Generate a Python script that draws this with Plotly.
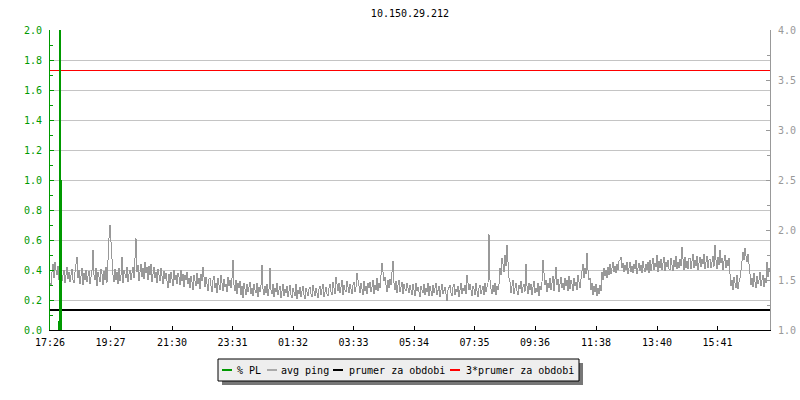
import plotly.graph_objects as go

# ---------------- data ----------------
title_text = "10.150.29.212"
start_time = "17:26"
tick_labels = ["17:26", "19:27", "21:30", "23:31", "01:32", "03:33",
               "05:34", "07:35", "09:36", "11:38", "13:40", "15:41"]
period_minutes = 1440
ping_step_minutes = 2

# avg ping [ms], one sample every 2 minutes
avg_ping = [
    1.47, 1.44, 1.58, 1.66, 1.52, 1.68, 1.60, 1.55, 1.64, 1.50, 1.58, 1.62, 1.49, 1.53, 1.60, 1.47, 1.56, 1.63, 1.51, 1.58,
    1.48, 1.55, 1.61, 1.50, 1.47, 1.58, 1.64, 1.73, 1.52, 1.60, 1.46, 1.55, 1.62, 1.45, 1.57, 1.50, 1.60, 1.48, 1.54, 1.59,
    1.46, 1.52, 1.60, 1.80, 1.55, 1.50, 1.62, 1.44, 1.58, 1.53, 1.48, 1.61, 1.56, 1.45, 1.59, 1.50, 1.63, 1.47, 1.78, 1.92,
    2.05, 1.85, 1.72, 1.55, 1.48, 1.61, 1.50, 1.58, 1.46, 1.62, 1.49, 1.55, 1.73, 1.47, 1.60, 1.57, 1.52, 1.63, 1.48, 1.56,
    1.60, 1.50, 1.56, 1.63, 1.52, 1.78, 1.92, 1.58, 1.65, 1.49, 1.60, 1.66, 1.53, 1.62, 1.51, 1.68, 1.57, 1.63, 1.50, 1.64,
    1.55, 1.66, 1.48, 1.60, 1.63, 1.52, 1.58, 1.47, 1.61, 1.55, 1.49, 1.62, 1.54, 1.46, 1.59, 1.51, 1.57, 1.48, 1.42, 1.56,
    1.47, 1.58, 1.52, 1.44, 1.60, 1.50, 1.55, 1.46, 1.57, 1.53, 1.45, 1.60, 1.49, 1.56, 1.43, 1.55, 1.50, 1.58, 1.46, 1.52,
    1.42, 1.54, 1.48, 1.40, 1.55, 1.50, 1.44, 1.57, 1.46, 1.52, 1.41, 1.56, 1.49, 1.63, 1.47, 1.43, 1.53, 1.45, 1.39, 1.51,
    1.52, 1.44, 1.38, 1.50, 1.54, 1.42, 1.47, 1.37, 1.52, 1.45, 1.40, 1.55, 1.48, 1.39, 1.51, 1.43, 1.46, 1.38, 1.53, 1.44,
    1.50, 1.42, 1.52, 1.70, 1.45, 1.39, 1.50, 1.36, 1.47, 1.42, 1.49, 1.35, 1.44, 1.32, 1.47, 1.40, 1.35, 1.46, 1.38, 1.43,
    1.48, 1.36, 1.42, 1.34, 1.46, 1.40, 1.37, 1.47, 1.33, 1.43, 1.38, 1.45, 1.65, 1.41, 1.35, 1.44, 1.37, 1.46, 1.34, 1.41,
    1.62, 1.40, 1.36, 1.46, 1.33, 1.42, 1.38, 1.47, 1.35, 1.40, 1.44, 1.32, 1.39, 1.46, 1.34, 1.41, 1.37, 1.44, 1.33, 1.40,
    1.45, 1.35, 1.32, 1.42, 1.38, 1.34, 1.46, 1.31, 1.40, 1.36, 1.43, 1.33, 1.39, 1.44, 1.35, 1.31, 1.42, 1.37, 1.34, 1.41,
    1.43, 1.36, 1.33, 1.45, 1.39, 1.34, 1.42, 1.37, 1.32, 1.41, 1.44, 1.35, 1.40, 1.46, 1.33, 1.38, 1.43, 1.36, 1.34, 1.42,
    1.46, 1.38, 1.35, 1.48, 1.42, 1.36, 1.53, 1.44, 1.39, 1.47, 1.37, 1.43, 1.50, 1.35, 1.45, 1.40, 1.38, 1.49, 1.42, 1.37,
    1.46, 1.40, 1.36, 1.45, 1.48, 1.38, 1.43, 1.57, 1.52, 1.44, 1.37, 1.47, 1.41, 1.35, 1.49, 1.39, 1.44, 1.36, 1.47, 1.42,
    1.48, 1.38, 1.43, 1.50, 1.36, 1.45, 1.40, 1.52, 1.39, 1.47, 1.42, 1.55, 1.67, 1.58, 1.49, 1.53, 1.44, 1.38, 1.50, 1.42,
    1.51, 1.45, 1.58, 1.69, 1.47, 1.40, 1.49, 1.37, 1.45, 1.50, 1.38, 1.44, 1.48, 1.36, 1.46, 1.41, 1.39, 1.47, 1.43, 1.37,
    1.45, 1.38, 1.35, 1.46, 1.40, 1.34, 1.47, 1.39, 1.43, 1.36, 1.33, 1.44, 1.41, 1.37, 1.46, 1.35, 1.42, 1.38, 1.47, 1.34,
    1.44, 1.39, 1.34, 1.45, 1.37, 1.42, 1.47, 1.35, 1.40, 1.44, 1.33, 1.41, 1.46, 1.36, 1.39, 1.43, 1.36, 1.29, 1.40, 1.44,
    1.45, 1.37, 1.34, 1.43, 1.46, 1.35, 1.41, 1.38, 1.44, 1.33, 1.40, 1.47, 1.36, 1.42, 1.39, 1.45, 1.36, 1.55, 1.47, 1.40,
    1.46, 1.38, 1.34, 1.44, 1.41, 1.35, 1.47, 1.39, 1.33, 1.42, 1.45, 1.36, 1.40, 1.44, 1.35, 1.47, 1.38, 1.42, 1.47, 1.96,
    1.50, 1.41, 1.36, 1.45, 1.38, 1.47, 1.35, 1.44, 1.40, 1.46, 1.62, 1.55, 1.72, 1.66, 1.58, 1.75, 1.64, 1.85, 1.68, 1.52,
    1.48, 1.37, 1.44, 1.50, 1.36, 1.42, 1.47, 1.39, 1.35, 1.45, 1.41, 1.49, 1.37, 1.43, 1.46, 1.38, 1.66, 1.44, 1.36, 1.47,
    1.40, 1.46, 1.35, 1.43, 1.49, 1.37, 1.42, 1.38, 1.47, 1.34, 1.44, 1.40, 1.48, 1.70, 1.55, 1.45, 1.50, 1.38, 1.47, 1.42,
    1.52, 1.40, 1.47, 1.54, 1.39, 1.48, 1.63, 1.45, 1.51, 1.38, 1.49, 1.53, 1.42, 1.47, 1.40, 1.52, 1.44, 1.50, 1.39, 1.54,
    1.41, 1.50, 1.46, 1.39, 1.52, 1.44, 1.48, 1.40, 1.55, 1.45, 1.42, 1.51, 1.58, 1.66, 1.52, 1.62, 1.56, 1.77, 1.60, 1.50,
    1.52, 1.40, 1.47, 1.35, 1.44, 1.38, 1.46, 1.34, 1.42, 1.36, 1.45, 1.39, 1.58, 1.50, 1.62, 1.54, 1.60, 1.52, 1.63, 1.55,
    1.66, 1.56, 1.62, 1.68, 1.58, 1.64, 1.57, 1.66, 1.60, 1.69, 1.70, 1.73, 1.62, 1.67, 1.58, 1.65, 1.60, 1.68, 1.56, 1.63,
    1.68, 1.58, 1.64, 1.57, 1.66, 1.61, 1.70, 1.56, 1.63, 1.67, 1.59, 1.65, 1.57, 1.69, 1.62, 1.58, 1.66, 1.60, 1.68, 1.57,
    1.70, 1.59, 1.66, 1.72, 1.60, 1.67, 1.63, 1.75, 1.58, 1.69, 1.62, 1.71, 1.60, 1.66, 1.73, 1.59, 1.68, 1.63, 1.70, 1.61,
    1.60, 1.72, 1.65, 1.59, 1.70, 1.63, 1.74, 1.61, 1.68, 1.62, 1.71, 1.64, 1.83, 1.66, 1.60, 1.73, 1.62, 1.69, 1.61, 1.72,
    1.72, 1.61, 1.67, 1.76, 1.62, 1.70, 1.64, 1.74, 1.60, 1.69, 1.73, 1.63, 1.71, 1.66, 1.76, 1.61, 1.68, 1.74, 1.62, 1.70,
    1.71, 1.62, 1.68, 1.74, 1.63, 1.85, 1.70, 1.61, 1.73, 1.65, 1.80, 1.67, 1.72, 1.60, 1.69, 1.75, 1.62, 1.70, 1.64, 1.72,
    1.56, 1.44, 1.50, 1.40, 1.53, 1.46, 1.42, 1.55, 1.41, 1.48, 1.52, 1.60, 1.72, 1.78, 1.70, 1.82, 1.74, 1.68, 1.76, 1.62,
    1.56, 1.45, 1.52, 1.43, 1.57, 1.48, 1.42, 1.54, 1.46, 1.50, 1.58, 1.44, 1.49, 1.55, 1.43, 1.52, 1.47, 1.68, 1.53, 1.62,
    1.58,
]

# packet loss [%] (non-zero only near the start)
pl_minutes = [19, 20, 21, 22, 23]
pl_values = [0.0, 2.0, 0.0, 1.0, 0.0]

period_avg = 1.2             # prumer za obdobi [ms]
triple_avg = 3 * period_avg  # 3*prumer za obdobi

legend_names = ["% PL", "avg ping", "prumer za obdobi", "3*prumer za obdobi"]

# ---------------- styles ----------------
GREEN = "#009900"
GRAY = "#999999"
GRID = "#c4c4c4"
FONT = "DejaVu Sans Mono"
W, H = 800, 400
ML, MR, MT, MB = 50, 30, 30, 70


def hm_to_min(s):
    h, m = s.split(":")
    return int(h) * 60 + int(m)


t0 = hm_to_min(start_time)
tick_vals = [(hm_to_min(t) - t0) % 1440 for t in tick_labels]
ping_x = [i * ping_step_minutes for i in range(len(avg_ping))]

fig = go.Figure()
# ping axis (y, right side)
fig.add_trace(go.Scatter(x=[0, period_minutes], y=[triple_avg, triple_avg], mode="lines",
                         line=dict(color="#ff0000", width=1), yaxis="y", showlegend=False))
fig.add_trace(go.Scatter(x=ping_x, y=avg_ping, mode="lines",
                         line=dict(color=GRAY, width=1), yaxis="y", showlegend=False))
fig.add_trace(go.Scatter(x=[0, period_minutes], y=[period_avg, period_avg], mode="lines",
                         line=dict(color="#000000", width=2), yaxis="y", showlegend=False))
# packet loss axis (y2, left side)
fig.add_trace(go.Scatter(x=pl_minutes, y=pl_values, mode="lines",
                         line=dict(color=GREEN, width=2), yaxis="y2", showlegend=False))

pw = W - ML - MR
ph = H - MT - MB


def px(xp):
    return (xp - ML) / pw


def py(yp):
    return (H - MB - yp) / ph


shapes = []
annotations = []
# legend box with shadow
lx0, lx1, ly0, ly1 = 218, 579, 359, 381
shapes.append(dict(type="rect", xref="paper", yref="paper", x0=px(lx0 + 4), x1=px(lx1 + 4),
                   y0=py(ly0 + 4), y1=py(ly1 + 4), fillcolor="#777777", line=dict(width=0), layer="below"))
shapes.append(dict(type="rect", xref="paper", yref="paper", x0=px(lx0), x1=px(lx1),
                   y0=py(ly0), y1=py(ly1), fillcolor="#eeeeee", line=dict(color="#000000", width=1), layer="below"))
legend_colors = [GREEN, "#aaaaaa", "#000000", "#ff0000"]
sample_x = [222, 267, 333, 450]
text_x = [235, 279, 347, 464]
ly = 370
for name, col, sx, tx in zip(legend_names, legend_colors, sample_x, text_x):
    shapes.append(dict(type="line", xref="paper", yref="paper", x0=px(sx), x1=px(sx + 10),
                       y0=py(ly), y1=py(ly), line=dict(color=col, width=2)))
    annotations.append(dict(text=name, xref="paper", yref="paper", x=px(tx), y=py(ly),
                            xanchor="left", yanchor="middle", showarrow=False,
                            font=dict(family=FONT, size=10, color="#000000")))

fig.update_layout(
    width=W, height=H,
    margin=dict(l=ML, r=MR, t=MT, b=MB, autoexpand=False),
    paper_bgcolor="#ffffff", plot_bgcolor="#ffffff",
    font=dict(family=FONT, size=10, color="#000000"),
    title=dict(text=title_text, x=0.5, xref="paper", y=1 - 13 / H, yanchor="middle",
               font=dict(family=FONT, size=10, color="#000000")),
    showlegend=False,
    shapes=shapes,
    annotations=annotations,
    xaxis=dict(range=[0, period_minutes], tickvals=tick_vals, ticktext=tick_labels,
               ticks="inside", ticklen=4, tickcolor="#000000", showline=True, linecolor="#000000",
               linewidth=1, showgrid=False, zeroline=False, ticklabelstandoff=3,
               tickfont=dict(color="#000000", size=10)),
    yaxis=dict(range=[1, 4], side="right", dtick=0.5, tick0=1, tickformat=".1f",
               ticks="inside", ticklen=4, tickcolor=GRAY, showline=True, linecolor=GRAY,
               showgrid=False, zeroline=False, ticklabelstandoff=5,
               tickfont=dict(color=GRAY, size=10),
               minor=dict(dtick=0.25, ticks="inside", ticklen=3, tickcolor=GRAY)),
    yaxis2=dict(range=[0, 2], overlaying="y", side="left", dtick=0.2, tick0=0, tickformat=".1f",
                ticks="inside", ticklen=4, tickcolor=GREEN, showline=True, linecolor=GREEN,
                showgrid=True, gridcolor=GRID, gridwidth=1, zeroline=False, ticklabelstandoff=5,
                tickfont=dict(color=GREEN, size=10),
                minor=dict(dtick=0.1, ticks="inside", ticklen=3, tickcolor=GREEN)),
)

post = (
    "document.body.style.margin='0';"
    "document.querySelectorAll('.scatterlayer path.js-line').forEach(function(p){"
    "p.style.shapeRendering='crispEdges';});"
)
fig.write_html("out.html", config={"displayModeBar": False}, post_script=post)
